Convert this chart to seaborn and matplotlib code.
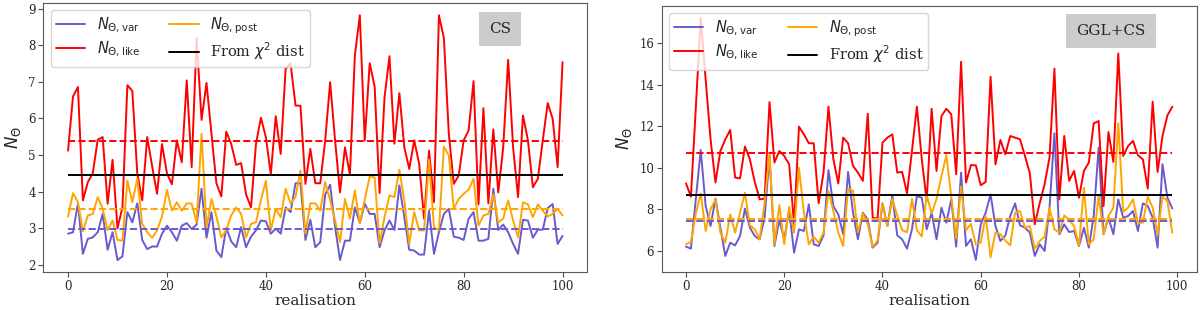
import matplotlib
matplotlib.use("Agg")
import matplotlib.pyplot as plt
import seaborn as sns
import numpy as np

sns.set_style("ticks")
plt.rcParams['font.family'] = ['DejaVu Serif']
plt.rcParams['mathtext.fontset'] = 'dejavusans'

# --- CS panel (realisations 0..100) ---
cs_like = [5.12, 6.60, 6.86, 3.76, 4.26, 4.50, 5.42, 5.49, 3.67, 4.87,
           3.00, 3.57, 6.91, 6.75, 4.50, 3.76, 5.49, 4.70, 3.94, 5.30,
           4.50, 4.20, 5.40, 4.80, 7.04, 4.67, 8.20, 5.96, 6.97, 5.58,
           4.23, 3.87, 5.64, 5.30, 4.73, 4.78, 3.92, 3.57, 5.30, 6.02,
           5.49, 4.47, 6.06, 5.03, 7.36, 7.51, 6.35, 6.35, 4.21, 5.17,
           4.23, 4.23, 5.40, 6.99, 5.40, 3.98, 5.21, 4.46, 7.72, 8.82,
           5.40, 7.51, 6.87, 3.96, 6.58, 7.70, 5.31, 6.69, 5.21, 4.62,
           5.40, 4.76, 3.26, 5.12, 3.71, 8.82, 8.20, 5.58, 4.21, 4.44,
           5.40, 5.67, 7.02, 3.65, 6.28, 3.68, 5.70, 3.98, 5.21, 7.60,
           5.21, 3.85, 6.08, 5.40, 4.12, 4.35, 5.40, 6.42, 5.99, 4.67,
           7.54]
cs_var = [2.85, 2.89, 3.68, 2.30, 2.71, 2.75, 2.89, 3.39, 2.41, 2.89,
          2.13, 2.23, 3.44, 3.16, 3.68, 2.68, 2.43, 2.50, 2.50, 2.85,
          3.07, 2.89, 2.66, 3.07, 3.14, 2.98, 3.10, 4.08, 2.74, 3.44,
          2.39, 2.21, 3.01, 2.64, 2.48, 3.03, 2.48, 2.77, 2.94, 3.21,
          3.19, 2.85, 2.99, 2.85, 3.57, 3.44, 4.23, 4.23, 2.68, 3.23,
          2.48, 2.62, 3.92, 4.19, 3.03, 2.13, 2.66, 2.66, 3.57, 3.14,
          3.67, 3.39, 3.39, 2.48, 2.94, 3.21, 2.95, 4.17, 3.30, 2.41,
          2.39, 2.28, 2.28, 3.48, 2.30, 2.89, 3.39, 3.53, 2.77, 2.74,
          2.68, 3.26, 3.44, 2.66, 2.66, 2.71, 4.08, 2.95, 3.10, 2.89,
          2.57, 2.30, 3.23, 3.21, 2.74, 2.96, 2.96, 3.55, 3.66, 2.57,
          2.79]
cs_post = [3.32, 3.96, 3.71, 2.92, 3.35, 3.39, 3.85, 3.53, 2.95, 3.21,
           2.68, 2.66, 4.30, 3.71, 4.35, 3.12, 2.89, 2.74, 2.94, 3.32,
           4.05, 3.48, 3.71, 3.48, 3.68, 3.67, 3.16, 5.58, 3.03, 3.80,
           3.32, 2.75, 2.95, 3.35, 3.57, 3.39, 2.75, 3.12, 3.16, 3.76,
           4.30, 2.94, 3.53, 3.30, 4.08, 3.68, 3.85, 4.58, 2.85, 3.68,
           3.68, 3.48, 4.26, 3.76, 3.21, 2.62, 3.80, 3.26, 4.03, 3.14,
           3.78, 4.41, 4.39, 2.59, 3.30, 3.90, 3.85, 4.60, 3.76, 2.57,
           3.44, 2.94, 2.94, 4.87, 3.03, 2.94, 5.23, 4.99, 3.53, 3.80,
           3.94, 4.05, 4.35, 3.07, 3.35, 3.39, 3.92, 3.16, 3.26, 3.76,
           3.21, 2.75, 3.71, 3.65, 3.30, 3.65, 3.48, 3.32, 3.39, 3.53,
           3.35]
cs_levels = {'var': 2.97, 'like': 5.38, 'post': 3.53, 'chi2': 4.46}

# --- GGL+CS panel (realisations 0..99) ---
gc_like = [9.25, 8.61, 12.90, 17.20, 14.25, 11.37, 9.29, 10.81, 11.37, 11.82,
           9.53, 9.49, 11.02, 10.41, 9.32, 8.48, 8.52, 13.16, 10.25, 10.81,
           10.57, 10.17, 7.28, 11.98, 11.61, 11.18, 11.18, 8.29, 9.77, 12.94,
           10.41, 9.25, 11.45, 11.18, 10.09, 9.77, 9.37, 12.60, 7.60, 7.55,
           11.21, 11.45, 11.61, 9.77, 9.80, 8.77, 10.81, 12.94, 10.41, 8.40,
           12.84, 9.85, 12.49, 12.84, 12.57, 9.69, 15.10, 9.29, 10.13, 10.12,
           9.16, 9.32, 14.38, 10.17, 11.34, 10.65, 11.53, 11.45, 11.37, 10.57,
           9.73, 7.28, 8.29, 9.21, 10.50, 14.77, 8.48, 11.53, 9.37, 9.85,
           8.56, 9.85, 10.25, 12.14, 12.25, 8.16, 11.72, 10.28, 15.50, 10.57,
           11.05, 11.29, 10.60, 10.41, 9.00, 13.18, 9.80, 11.53, 12.52, 12.94]
gc_var = [6.21, 6.11, 8.50, 10.86, 8.16, 7.20, 8.52, 7.12, 5.76, 6.40,
          6.27, 6.72, 8.04, 7.12, 6.72, 6.56, 7.60, 10.57, 6.24, 7.49,
          6.56, 7.97, 5.92, 7.04, 6.96, 8.24, 6.32, 6.24, 6.75, 9.89,
          8.16, 7.76, 6.80, 9.80, 7.84, 6.56, 7.84, 7.52, 6.16, 6.40,
          8.29, 7.20, 8.68, 6.75, 6.56, 6.11, 7.04, 8.64, 8.56, 7.04,
          7.84, 6.56, 8.08, 7.36, 8.48, 6.21, 9.77, 6.24, 6.56, 5.57,
          7.28, 7.84, 8.72, 7.20, 6.48, 6.74, 7.68, 8.29, 7.23, 7.12,
          6.88, 5.76, 6.32, 6.00, 8.08, 11.66, 6.80, 7.28, 6.91, 6.96,
          6.24, 7.12, 6.16, 7.68, 10.97, 6.80, 7.60, 6.80, 8.48, 7.60,
          7.68, 7.92, 6.96, 8.29, 8.16, 7.60, 6.16, 10.17, 8.56, 8.04]
gc_post = [6.32, 6.43, 7.80, 8.77, 6.96, 8.00, 8.48, 6.88, 6.40, 7.76,
           6.88, 7.84, 8.80, 7.23, 7.04, 6.56, 8.32, 10.65, 6.32, 8.20,
           6.32, 8.13, 6.88, 10.00, 7.84, 6.32, 6.69, 6.40, 6.88, 8.88,
           7.92, 6.88, 6.24, 9.00, 8.90, 6.90, 7.80, 7.30, 6.20, 6.50,
           8.30, 7.20, 8.50, 7.70, 7.00, 6.90, 8.50, 7.00, 6.70, 8.70,
           7.80, 8.50, 9.60, 10.60, 8.60, 6.60, 9.10, 7.00, 7.30, 6.30,
           6.40, 7.70, 5.70, 6.90, 6.80, 6.50, 6.27, 7.84, 7.92, 7.12,
           7.20, 6.11, 6.48, 6.69, 8.08, 7.04, 6.88, 7.71, 7.49, 7.20,
           6.27, 9.04, 6.32, 6.56, 8.68, 6.80, 7.68, 8.08, 12.14, 7.88,
           8.08, 8.48, 7.36, 7.36, 8.61, 8.08, 6.80, 8.61, 8.40, 6.88]
gc_levels = {'var': 7.44, 'like': 10.70, 'post': 7.55, 'chi2': 8.69}

colors = {'var': 'slateblue', 'like': 'red', 'post': 'orange', 'chi2': 'black'}
labels = {'var': r'$N_{\Theta,\mathrm{var}}$', 'like': r'$N_{\Theta,\mathrm{like}}$',
          'post': r'$N_{\Theta,\mathrm{post}}$', 'chi2': r'From $\chi^2$ dist'}

fig = plt.figure(figsize=(12, 3.1), dpi=100)
ax1 = fig.add_axes([0.0361, 0.1216, 0.4533, 0.8687])
ax2 = fig.add_axes([0.5514, 0.1226, 0.4458, 0.858])


def draw(ax, series, levels, tag):
    n = len(series['var'])
    x = np.arange(n)
    for key in ['var', 'like', 'post']:
        sns.lineplot(x=x, y=series[key], color=colors[key], lw=1.4, ax=ax)
    for key in ['var', 'like', 'post']:
        ax.hlines(levels[key], 0, n - 1, colors=colors[key], linestyles='--', lw=1.4)
    ax.hlines(levels['chi2'], 0, n - 1, colors='black', lw=1.4)
    order = ['var', 'like', 'post', 'chi2']
    hs = [plt.Line2D([], [], color=colors[k], lw=1.4) for k in order]
    ax.legend(hs, [labels[k] for k in order], ncol=2, loc='upper left', fontsize=10.5,
              borderaxespad=0.5, borderpad=0.35, labelspacing=0.3)
    ax.set_xlabel('realisation', fontsize=11, labelpad=1)
    ax.set_ylabel(r'$N_{\Theta}$', fontsize=12, labelpad=4)
    ax.set_xticks([0, 20, 40, 60, 80, 100])
    ax.tick_params(labelsize=8.5, length=3.5, width=0.8, pad=2, color='0.3')
    for s in ax.spines.values():
        s.set_color('0.35')
    ax.text(0.84, 0.905, tag, transform=ax.transAxes, ha='center', va='center', fontsize=11,
            bbox=dict(boxstyle='square,pad=0.65', facecolor='#cccccc', edgecolor='none'))


draw(ax1, {'var': cs_var, 'like': cs_like, 'post': cs_post}, cs_levels, 'CS')
draw(ax2, {'var': gc_var, 'like': gc_like, 'post': gc_post}, gc_levels, 'GGL+CS')

fig.savefig('out.png', dpi=100)
